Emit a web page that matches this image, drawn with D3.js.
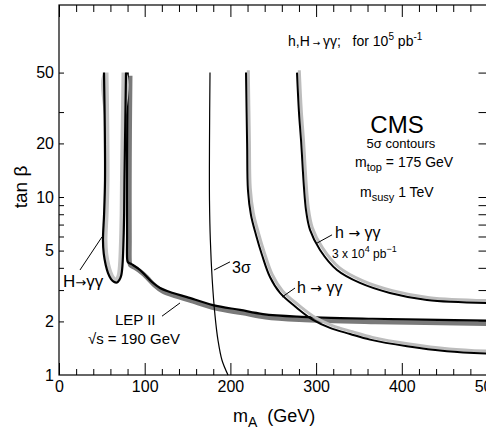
<!DOCTYPE html>
<html>
	<head>
		<meta charset="utf-8">
		<title>CMS h,H to gamma gamma 5 sigma contours</title>
		<script src="https://d3js.org/d3.v7.min.js"></script>
		<style>
			body { margin:0; background:white; }
			#plot { width:486px; height:430px; overflow:hidden; }
			text { font-family: 'Liberation Sans', Arial, Helvetica, sans-serif; fill:black; white-space:pre; }
			.arrow { font-family: 'DejaVu Sans', sans-serif; }
		</style>
	</head>
	<body>
		<div id='plot'></div>
		<script>
			// axis ticks
			var xTicks = [0,20,40,60,80,100,120,140,160,180,200,220,240,260,280,300,320,340,360,380,400,420,440,460,480,500]
			var xLabels = [0,100,200,300,400,500]
			var yTicks = [2,3,4,5,6,7,8,9,10,20,30,50]
			var yLabels = [1,2,5,10,20,50]

			// contours as [mA (GeV), tan beta]
			var HGG = [[52.5,50],[53.4,25],[53.7,12.5],[52.6,8],[51.3,5.73],[52.2,4.8],[54.5,4.15],[57.2,3.74],[60.7,3.46],[64,3.34],[67.7,3.31],[70.5,3.42],[72.6,3.62],[74.1,4.15],[75.3,5.73],[76,8],[76.4,12.5],[77.3,25],[78.2,50]]
			var LEP = [[80.2,50],[79.6,25],[79.3,12],[79.4,6],[79.6,4.45],[80.5,4.3],[86.3,4.15],[94.5,3.89],[100.4,3.65],[108.5,3.33],[117.9,3.08],[133,2.89],[149.4,2.74],[179.7,2.47],[211.2,2.32],[238,2.2],[277.7,2.13],[366,2.07],[500,2.02]]
			var SIG3 = [[176.2,50],[175.6,20],[175.6,9.6],[176.6,5.73],[178.8,3.42],[182,2.17],[185.5,1.57],[190.2,1.21],[197.2,1]]
			var HGG_1E5 = [[218.2,50],[219.5,20],[220.5,10.9],[224,7.92],[229.9,6.12],[236.9,4.72],[246.2,3.55],[257.9,2.89],[277.7,2.38],[296.4,2.04],[316.2,1.84],[339.6,1.7],[362.9,1.58],[406.1,1.45],[452.7,1.36],[500,1.32]]
			var HGG_3E4 = [[277.7,50],[280,30],[282.4,20.9],[288.2,8.45],[292.9,6.53],[304.6,5.04],[324.4,3.89],[351.2,3.29],[386.2,2.89],[429.4,2.64],[500,2.54]]

			var margin = {top:5, bottom:55, left:59, right:0}
			var width = 428.5
			var height = 370

			var svg = d3.select('#plot').append('svg')
							.attr('width', 486)
							.attr('height', 430)
			var g = svg.append('g')
							.attr('transform','translate('+margin.left+','+margin.top+')')

			var x = d3.scaleLinear().domain([0,500]).range([0,width])
			var y = d3.scaleLog().domain([1, Math.pow(10, 370/178)]).range([height,0])

			var line = d3.line()
						.x(function(d){return x(d[0])})
						.y(function(d){return y(d[1])})
						.curve(d3.curveCatmullRom.alpha(0.5))

			//AXES
			function axisStyle(sel) {
				sel.select('.domain').remove()
				sel.selectAll('line').attr('stroke','black').attr('stroke-width',1)
				sel.selectAll('text').attr('font-size',16).attr('font-family',null)
			}
			var minorX = xTicks.filter(function(d){return xLabels.indexOf(d)<0})
			g.append('g').attr('transform','translate(0,'+height+')')
				.call(d3.axisBottom(x).tickValues(minorX).tickSize(-6).tickFormat('')).call(axisStyle)
			g.append('g').attr('transform','translate(0,'+height+')')
				.call(d3.axisBottom(x).tickValues(xLabels).tickSize(-12).tickPadding(6).tickFormat(d3.format('d'))).call(axisStyle)
			g.append('g')
				.call(d3.axisTop(x).tickValues(minorX).tickSize(-7).tickFormat('')).call(axisStyle)
			g.append('g')
				.call(d3.axisTop(x).tickValues(xLabels).tickSize(-12).tickFormat('')).call(axisStyle)

			g.append('g')
				.call(d3.axisLeft(y).tickValues(yTicks).tickSize(-5).tickFormat('')).call(axisStyle)
			g.append('g')
				.call(d3.axisLeft(y).tickValues(yLabels).tickSize(0).tickPadding(5).tickFormat(d3.format('d'))).call(axisStyle)
			g.append('g').attr('transform','translate('+width+',0)')
				.call(d3.axisRight(y).tickValues(yTicks).tickSize(-9).tickFormat('')).call(axisStyle)

			g.append('rect')
				.attr('width', width).attr('height', height)
				.attr('fill','none').attr('stroke','black').attr('stroke-width',1.2)

			//CURVES
			// LEP II band: grey below, black edge on top
			g.append('path').attr('d', line(LEP))
				.attr('fill','none').attr('stroke','#7a7a7a').attr('stroke-width',4.5)
				.attr('transform','translate(2.5,3.2)')
			g.append('path').attr('d', line(LEP))
				.attr('fill','none').attr('stroke','black').attr('stroke-width',2.2)

			// H -> gamma gamma contour, grey shading just inside
			g.append('clipPath').attr('id','hggclip')
				.append('path').attr('d', line.curve(d3.curveCatmullRomClosed.alpha(0.5))(HGG))
			line.curve(d3.curveCatmullRom.alpha(0.5))
			g.append('path').attr('d', line(HGG))
				.attr('fill','none').attr('stroke','#c4c4c4').attr('stroke-width',9)
				.attr('clip-path','url(#hggclip)')
			g.append('path').attr('d', line(HGG))
				.attr('fill','none').attr('stroke','black').attr('stroke-width',2.2)

			// h -> gamma gamma contours
			;[HGG_1E5, HGG_3E4].forEach(function(c){
				g.append('path').attr('d', line(c))
					.attr('fill','none').attr('stroke','#bdbdbd').attr('stroke-width',3)
					.attr('transform','translate(2.3,-2.3)')
				g.append('path').attr('d', line(c))
					.attr('fill','none').attr('stroke','black').attr('stroke-width',2)
			})

			// 3 sigma
			g.append('path').attr('d', line(SIG3))
				.attr('fill','none').attr('stroke','black').attr('stroke-width',1.2)

			//LABELS
			function label(m, t, parts, anchor) {
				var txt = g.append('text')
							.attr('x', x(m)).attr('y', y(t))
							.attr('text-anchor', anchor || 'start')
				parts.forEach(function(p){
					txt.append('tspan')
						.attr('font-size', p[1])
						.attr('dy', p[2] || 0)
						.attr('class', p[0].indexOf('\u2192')>=0 ? 'arrow' : null)
						.text(p[0])
				})
				return txt
			}
			label(267.2, 70.5, [['h,H',14],[' \u2192 ',9],['\u03b3\u03b3;   for 10',14],['5',10,-6],[' pb',14,6],['-1',10,-6]])
			label(394.4, 22.9, [['CMS',24]], 'middle')
			label(399, 18.8, [['5\u03c3 contours',13]], 'middle')
			label(345.4, 14.7, [['m',14],['top',11,4],[' = 175 GeV',14,-4]])
			label(351.2, 10, [['m',14],['susy',11,4],[' 1 TeV',14,-4]])
			label(322.1, 5.89, [['h ',16],['\u2192',14],[' \u03b3\u03b3',16]])
			label(318.6, 4.54, [['3 x 10',12],['4',9,-6],[' pb',12,6],['\u22121',9,-6]])
			label(277.7, 2.89, [['h ',16],['\u2192',14],[' \u03b3\u03b3',16]])
			label(201.9, 3.74, [['3\u03c3',16]])
			label(4.7, 3.12, [['H',17],['\u2192',13],['\u03b3\u03b3',17]])
			label(65.3, 1.9, [['LEP II',15]])
			label(33.8, 1.5, [['\u221as = 190 GeV',15]])

			// leader lines
			var leaders = [
				[[24.5,3.89],[50.2,5.97]],
				[[180.9,3.89],[199.5,4.32]],
				[[120.2,2.14],[141.2,2.54]],
				[[301.1,5.51],[318.6,6.13]],
				[[260.2,2.74],[275.4,3.08]]
			]
			g.selectAll('.leader')
				.data(leaders)
				.enter()
				.append('line')
					.attr('class','leader')
					.attr('x1', function(d){return x(d[0][0])})
					.attr('y1', function(d){return y(d[0][1])})
					.attr('x2', function(d){return x(d[1][0])})
					.attr('y2', function(d){return y(d[1][1])})
					.attr('stroke','black').attr('stroke-width',1)

			// axis titles
			var xt = svg.append('text')
						.attr('x', 233).attr('y', 422)
			xt.append('tspan').attr('font-size',18).text('m')
			xt.append('tspan').attr('font-size',14).attr('dy',5).text('A')
			xt.append('tspan').attr('font-size',18).attr('dy',-5).text('  (GeV)')

			svg.append('text')
				.attr('transform','translate(27,187) rotate(-90)')
				.attr('text-anchor','middle')
				.attr('font-size',19)
				.text('tan \u03b2')
		</script>
	</body>
</html>
